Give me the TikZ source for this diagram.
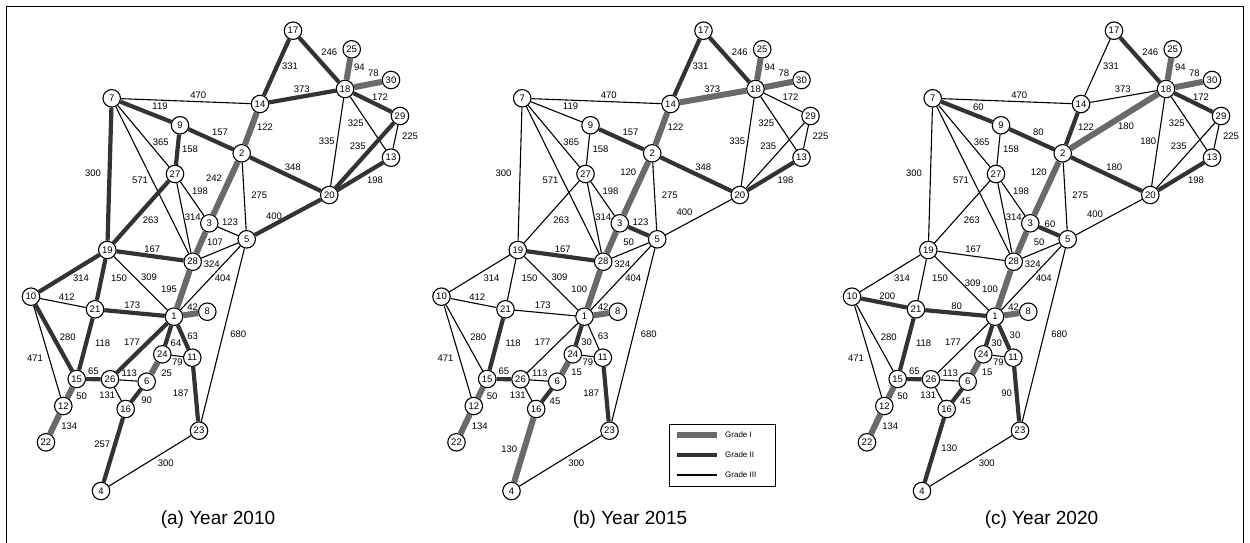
\documentclass[tikz,border=0pt]{standalone}
\usepackage{fontspec}
\setmainfont{Liberation Sans}
\definecolor{gI}{HTML}{6A6A6A}
\definecolor{gII}{HTML}{333333}
\tikzset{
 vx/.style={circle,draw,fill=white,line width=1.1pt,minimum size=17.5pt,inner sep=0pt,font=\fontsize{9.5}{10}\selectfont},
 lab/.style={inner sep=0pt,font=\fontsize{9.5}{10}\selectfont},
 g1/.style={line width=6pt,draw=gI},
 g2/.style={line width=4.2pt,draw=gII},
 g3/.style={line width=1.1pt,draw=black},
 capt/.style={font=\fontsize{19}{22}\selectfont},
 legtxt/.style={font=\fontsize{8}{9}\selectfont,anchor=west,inner sep=0pt},
}
\newcommand\placenodes{%
 \foreach \n/\x/\y in {17/293/30.7,25/351.7/49.3,30/391/80,18/345/89,14/260/104,7/111.7/98.3,9/180/125.3,2/241.7/153.3,29/400/116,13/391/157.7,27/175/174,20/329.3/195,3/209.3/223.3,5/246.7/239.3,19/107.3/250,28/192.7/261.7,10/31/296.7,21/95/309.3,1/174/316.7,8/207.3/311.7,24/162.3/354.3,11/192.3/357.7,15/76.7/379,26/110/379.3,6/146.7/381.7,12/63.3/406,16/125.7/409,22/46/442.3,23/199/430.7,4/101/491}
 {\node[vx] (\pp-\n) at (\x,\y) {\n};}}
\newcommand\edgeL[6]{\draw[#1] (\pp-#2) -- (\pp-#3); \node[lab] at (#5,#6) {#4};}
\begin{document}
\begin{tikzpicture}[x=1pt,y=-1pt]
\useasboundingbox (0,0) rectangle (1250,543);
\draw[line width=1pt] (6.5,543) -- (6.5,6.5) -- (1243.5,6.5) -- (1243.5,543);
% ---------------- panel (a) ----------------
\begin{scope}
\def\pp{a}
\placenodes
\edgeL{g2}{17}{14}{331}{290}{66.7}
\edgeL{g2}{17}{18}{246}{329.3}{52.7}
\edgeL{g1}{18}{25}{94}{359.3}{67.3}
\edgeL{g1}{18}{30}{78}{373.3}{73.3}
\edgeL{g2}{14}{18}{373}{301.7}{89}
\edgeL{g3}{7}{14}{470}{198.3}{95}
\edgeL{g2}{7}{9}{119}{160}{106.7}
\edgeL{g2}{18}{29}{172}{380}{96.7}
\edgeL{g3}{18}{13}{325}{355.7}{123.3}
\edgeL{g3}{18}{20}{335}{326.7}{141.7}
\edgeL{g3}{29}{13}{225}{410}{136.7}
\edgeL{g2}{29}{20}{235}{357.7}{146.7}
\edgeL{g2}{13}{20}{198}{375}{180.7}
\edgeL{g1}{14}{2}{122}{265}{127.3}
\edgeL{g2}{9}{2}{157}{220}{132.7}
\edgeL{g2}{2}{20}{348}{292.7}{167.3}
\edgeL{g2}{9}{27}{158}{190}{149.3}
\edgeL{g3}{7}{27}{365}{160.7}{142.7}
\edgeL{g2}{7}{19}{300}{93}{173}
\edgeL{g3}{7}{28}{571}{140}{180}
\edgeL{g1}{2}{3}{242}{214}{177.7}
\edgeL{g1}{3}{28}{107}{215}{242.3}
\edgeL{g1}{28}{1}{195}{169}{289.3}
\edgeL{g2}{19}{27}{263}{150.7}{220}
\edgeL{g3}{27}{3}{198}{200}{191.7}
\edgeL{g3}{27}{28}{314}{192.7}{217.7}
\edgeL{g3}{2}{5}{275}{259.3}{195.7}
\edgeL{g2}{5}{20}{400}{274}{216.7}
\edgeL{g3}{3}{5}{123}{230}{222.7}
\edgeL{g3}{28}{5}{324}{211.7}{264}
\edgeL{g2}{19}{28}{167}{152.3}{249}
\edgeL{g2}{19}{10}{314}{81}{278.7}
\edgeL{g2}{19}{21}{150}{119}{278.7}
\edgeL{g3}{19}{1}{309}{149}{277.7}
\edgeL{g3}{5}{1}{404}{222.7}{278.3}
\edgeL{g1}{1}{8}{42}{192.7}{306.7}
\edgeL{g3}{10}{21}{412}{66.7}{296.7}
\edgeL{g2}{21}{1}{173}{132.3}{305}
\edgeL{g2}{10}{15}{280}{67.7}{337.3}
\edgeL{g3}{10}{12}{471}{35}{358.3}
\edgeL{g2}{21}{15}{118}{102.7}{343.3}
\edgeL{g2}{1}{26}{177}{132}{342.7}
\edgeL{g2}{1}{24}{64}{176}{343.3}
\edgeL{g2}{1}{11}{63}{192.7}{336}
\edgeL{g3}{24}{11}{79}{177.3}{362.3}
\edgeL{g3}{5}{23}{680}{238.3}{334.3}
\edgeL{g2}{15}{26}{65}{93.3}{371.7}
\edgeL{g3}{26}{6}{113}{129.3}{373.3}
\edgeL{g1}{24}{6}{25}{166.7}{373.3}
\edgeL{g1}{15}{12}{50}{81.7}{396.7}
\edgeL{g1}{12}{22}{134}{69.3}{426}
\edgeL{g3}{26}{16}{131}{107.3}{395.7}
\edgeL{g2}{6}{16}{90}{146.7}{400.7}
\edgeL{g2}{16}{4}{257}{102.3}{444}
\edgeL{g2}{11}{23}{187}{180.7}{393.3}
\edgeL{g3}{23}{4}{300}{165.7}{463.3}
\node[capt] (capa) at (218,520) {(a) Year 2010};
\end{scope}
% ---------------- panel (b) ----------------
\begin{scope}[xshift=410.5pt]
\def\pp{b}
\placenodes
\edgeL{g2}{17}{14}{331}{290}{66.7}
\edgeL{g2}{17}{18}{246}{329.3}{52.7}
\edgeL{g1}{18}{25}{94}{359.3}{67.3}
\edgeL{g1}{18}{30}{78}{373.3}{73.3}
\edgeL{g1}{14}{18}{373}{301.7}{89}
\edgeL{g3}{7}{14}{470}{198.3}{95}
\edgeL{g3}{7}{9}{119}{160}{106.7}
\edgeL{g3}{18}{29}{172}{380}{96.7}
\edgeL{g3}{18}{13}{325}{355.7}{123.3}
\edgeL{g3}{18}{20}{335}{326.7}{141.7}
\edgeL{g3}{29}{13}{225}{410}{136.7}
\edgeL{g3}{29}{20}{235}{357.7}{146.7}
\edgeL{g2}{13}{20}{198}{375}{180.7}
\edgeL{g1}{14}{2}{122}{265}{127.3}
\edgeL{g2}{9}{2}{157}{220}{132.7}
\edgeL{g2}{2}{20}{348}{292.7}{167.3}
\edgeL{g3}{9}{27}{158}{190}{149.3}
\edgeL{g3}{7}{27}{365}{160.7}{142.7}
\edgeL{g3}{7}{19}{300}{93}{173}
\edgeL{g3}{7}{28}{571}{140}{180}
\edgeL{g1}{2}{3}{120}{217.8}{172.7}
\edgeL{g1}{3}{28}{50}{218.2}{242.3}
\edgeL{g1}{28}{1}{100}{168.8}{289.3}
\edgeL{g3}{19}{27}{263}{150.7}{220}
\edgeL{g3}{27}{3}{198}{200}{191.7}
\edgeL{g3}{27}{28}{314}{192.7}{217.7}
\edgeL{g3}{2}{5}{275}{259.3}{195.7}
\edgeL{g3}{5}{20}{400}{274}{212.7}
\edgeL{g2}{3}{5}{123}{230}{222.7}
\edgeL{g3}{28}{5}{324}{211.7}{264}
\edgeL{g2}{19}{28}{167}{152.3}{249}
\edgeL{g3}{19}{10}{314}{81}{278.7}
\edgeL{g3}{19}{21}{150}{119}{278.7}
\edgeL{g3}{19}{1}{309}{149}{277.7}
\edgeL{g3}{5}{1}{404}{222.7}{278.3}
\edgeL{g1}{1}{8}{42}{192.7}{306.7}
\edgeL{g3}{10}{21}{412}{66.7}{296.7}
\edgeL{g3}{21}{1}{173}{132.3}{305}
\edgeL{g3}{10}{15}{280}{67.7}{337.3}
\edgeL{g3}{10}{12}{471}{35}{358.3}
\edgeL{g2}{21}{15}{118}{102.7}{343.3}
\edgeL{g3}{1}{26}{177}{132}{342.7}
\edgeL{g2}{1}{24}{30}{176.2}{342.7}
\edgeL{g3}{1}{11}{63}{192.7}{336}
\edgeL{g3}{24}{11}{79}{177.3}{362.3}
\edgeL{g3}{5}{23}{680}{238.3}{334.3}
\edgeL{g2}{15}{26}{65}{93.3}{371.7}
\edgeL{g3}{26}{6}{113}{129.3}{373.3}
\edgeL{g1}{24}{6}{15}{166.2}{372.7}
\edgeL{g1}{15}{12}{50}{81.7}{396.7}
\edgeL{g1}{12}{22}{134}{69.3}{426}
\edgeL{g3}{26}{16}{131}{107.3}{395.7}
\edgeL{g2}{6}{16}{45}{144.5}{401.7}
\edgeL{g1}{16}{4}{130}{98.8}{449.3}
\edgeL{g2}{11}{23}{187}{180.7}{393.3}
\edgeL{g3}{23}{4}{300}{165.7}{463.3}
\node[capt] (capb) at (219.5,520) {(b) Year 2015};
\end{scope}
% legend
\node[draw,line width=1pt,minimum width=106pt,minimum height=62pt,inner sep=0pt] (leg) at (722,455) {};
\coordinate (l1a) at (676.7,435); \coordinate (l1b) at (716.7,435);
\coordinate (l2a) at (676.7,455); \coordinate (l2b) at (716.7,455);
\coordinate (l3a) at (676.7,475); \coordinate (l3b) at (716.7,475);
\draw[g1] (l1a) -- (l1b);
\draw[g2] (l2a) -- (l2b);
\draw[g3] (l3a) -- (l3b);
\node[legtxt] (t1) at (725,435) {Grade I};
\node[legtxt] (t2) at (725,455) {Grade II};
\node[legtxt] (t3) at (725,475) {Grade III};
% ---------------- panel (c) ----------------
\begin{scope}[xshift=821pt]
\def\pp{c}
\placenodes
\edgeL{g3}{17}{14}{331}{290}{66.7}
\edgeL{g2}{17}{18}{246}{329.3}{52.7}
\edgeL{g1}{18}{25}{94}{359.3}{67.3}
\edgeL{g1}{18}{30}{78}{373.3}{73.3}
\edgeL{g3}{14}{18}{373}{301.7}{89}
\edgeL{g3}{7}{14}{470}{198.3}{95}
\edgeL{g2}{7}{9}{60}{157.3}{107.7}
\edgeL{g2}{18}{29}{172}{380}{96.7}
\edgeL{g3}{18}{13}{325}{355.7}{123.3}
\edgeL{g3}{18}{20}{180}{327.3}{141.7}
\edgeL{g3}{29}{13}{225}{410}{136.7}
\edgeL{g3}{29}{20}{235}{357.7}{146.7}
\edgeL{g2}{13}{20}{198}{375}{180.7}
\edgeL{g2}{14}{2}{122}{265}{127.3}
\edgeL{g1}{2}{18}{180}{305}{126.7}
\edgeL{g2}{9}{2}{80}{217.3}{132.7}
\edgeL{g2}{2}{20}{180}{293.3}{167.3}
\edgeL{g3}{9}{27}{158}{190}{149.3}
\edgeL{g3}{7}{27}{365}{160.7}{142.7}
\edgeL{g3}{7}{19}{300}{93}{173}
\edgeL{g3}{7}{28}{571}{140}{180}
\edgeL{g1}{2}{3}{120}{217.8}{172.7}
\edgeL{g1}{3}{28}{50}{218.2}{242.3}
\edgeL{g1}{28}{1}{100}{169}{289.3}
\edgeL{g3}{19}{27}{263}{150.7}{220}
\edgeL{g3}{27}{3}{198}{200}{191.7}
\edgeL{g3}{27}{28}{314}{192.7}{217.7}
\edgeL{g3}{2}{5}{275}{259.3}{195.7}
\edgeL{g3}{5}{20}{400}{274}{214.7}
\edgeL{g2}{3}{5}{60}{229}{224}
\edgeL{g3}{28}{5}{324}{211.7}{264}
\edgeL{g3}{19}{28}{167}{152.3}{249}
\edgeL{g3}{19}{10}{314}{81}{278.7}
\edgeL{g3}{19}{21}{150}{119}{278.7}
\edgeL{g3}{19}{1}{309}{151.7}{283.3}
\edgeL{g3}{5}{1}{404}{222.7}{278.3}
\edgeL{g1}{1}{8}{42}{192.7}{306.7}
\edgeL{g2}{10}{21}{200}{66.3}{296.7}
\edgeL{g2}{21}{1}{80}{135.7}{306.7}
\edgeL{g3}{10}{15}{280}{67.7}{337.3}
\edgeL{g3}{10}{12}{471}{35}{358.3}
\edgeL{g2}{21}{15}{118}{102.7}{343.3}
\edgeL{g3}{1}{26}{177}{132}{342.7}
\edgeL{g2}{1}{24}{30}{175.7}{343.3}
\edgeL{g2}{1}{11}{30}{194}{335.7}
\edgeL{g3}{24}{11}{79}{177.3}{362.3}
\edgeL{g3}{5}{23}{680}{238.3}{334.3}
\edgeL{g2}{15}{26}{65}{93.3}{371.7}
\edgeL{g3}{26}{6}{113}{129.3}{373.3}
\edgeL{g1}{24}{6}{15}{166.2}{372.7}
\edgeL{g1}{15}{12}{50}{81.7}{396.7}
\edgeL{g1}{12}{22}{134}{69.3}{426}
\edgeL{g3}{26}{16}{131}{107.3}{395.7}
\edgeL{g2}{6}{16}{45}{144.5}{401.7}
\edgeL{g2}{16}{4}{130}{128.3}{448.3}
\edgeL{g2}{11}{23}{90}{185.7}{393.3}
\edgeL{g3}{23}{4}{300}{165.7}{463.3}
\node[capt] (capc) at (220.5,520) {(c) Year 2020};
\end{scope}
\end{tikzpicture}
\end{document}
